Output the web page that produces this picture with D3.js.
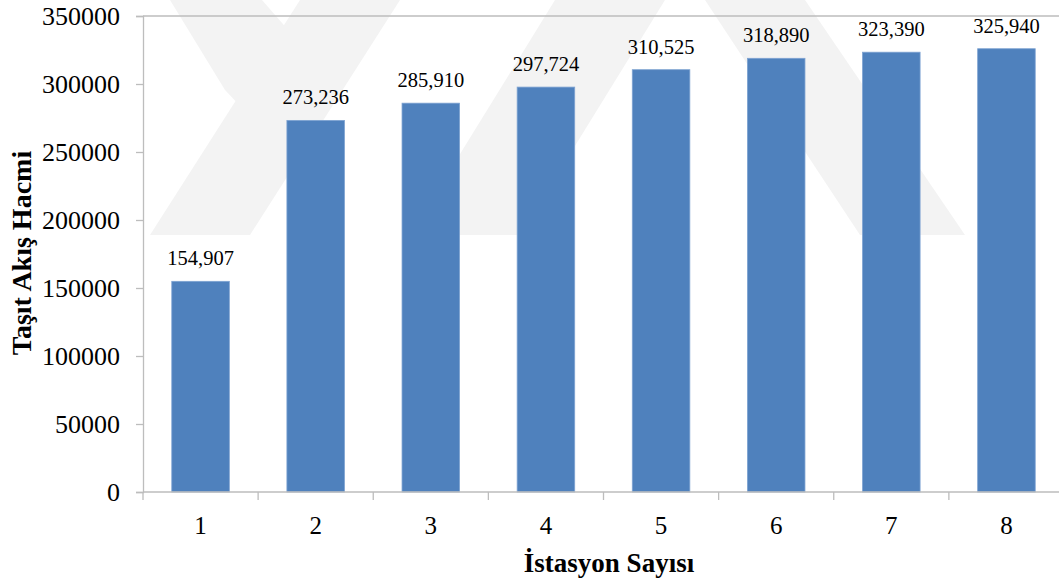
<!DOCTYPE html>
<html>
<head>
<meta charset="utf-8">
<script src="https://cdn.jsdelivr.net/npm/d3@7"></script>
<style>
  html, body { margin: 0; padding: 0; background: #fff; }
  svg { display: block; }
  text { font-family: "Liberation Serif", "Times New Roman", serif; fill: #000; }
</style>
</head>
<body>
<svg id="chart" width="1059" height="586"></svg>
<script>
// Number of stations and the resulting vehicle flow volume
const stations = ["1", "2", "3", "4", "5", "6", "7", "8"];
const flowVolume = [154907, 273236, 285910, 297724, 310525, 318890, 323390, 325940];
const yTicks = [0, 50000, 100000, 150000, 200000, 250000, 300000, 350000];
const xTitle = "İstasyon Sayısı";
const yTitle = "Taşıt Akış Hacmi";

const svg = d3.select("#chart");
const plot = { left: 143, right: 1064, top: 16, bottom: 492 };
const axisColor = "#bdbdbd";

// faint diagonal background stamp behind the chart
const stamp = [
  [[150, 235], [250, 235], [400, 0], [300, 0]],
  [[410, 235], [520, 235], [665, 0], [555, 0]],
  [[705, 0], [805, 0], [965, 235], [860, 235]],
  [[170, 0], [262, 0], [330, 78], [282, 150], [225, 90]]
];
svg.append("g").selectAll("polygon")
  .data(stamp)
  .join("polygon")
  .attr("points", d => d.map(p => p.join(",")).join(" "))
  .attr("fill", "#f3f3f3");

const x = d3.scaleBand()
  .domain(stations)
  .range([plot.left, plot.right])
  .paddingInner(0.5)
  .paddingOuter(0.25);

const y = d3.scaleLinear()
  .domain([0, 350000])
  .range([plot.bottom, plot.top]);

// top border of the plot area
svg.append("line")
  .attr("x1", plot.left).attr("x2", plot.right)
  .attr("y1", y(350000)).attr("y2", y(350000))
  .attr("stroke", axisColor).attr("stroke-width", 1.3);

// bars
svg.append("g").selectAll("rect")
  .data(stations)
  .join("rect")
  .attr("x", d => x(d))
  .attr("width", x.bandwidth())
  .attr("y", (d, i) => y(flowVolume[i]))
  .attr("height", (d, i) => y(0) - y(flowVolume[i]))
  .attr("fill", "#4f81bd")
  .attr("stroke", "#7ea3d2")
  .attr("stroke-width", 0.8);

// value labels
const fmt = d3.format(",");
svg.append("g").selectAll("text")
  .data(stations)
  .join("text")
  .attr("x", d => x(d) + x.bandwidth() / 2)
  .attr("y", (d, i) => y(flowVolume[i]) - 16)
  .attr("text-anchor", "middle")
  .style("font-size", "20.5px")
  .text((d, i) => fmt(flowVolume[i]));

// y axis
const yAxis = svg.append("g")
  .attr("transform", `translate(${plot.left},0)`)
  .call(d3.axisLeft(y).tickValues(yTicks).tickSize(7).tickPadding(16).tickFormat(d3.format("d")));
yAxis.select(".domain").attr("stroke", axisColor).attr("stroke-width", 1.3);
yAxis.selectAll(".tick line").attr("stroke", axisColor).attr("stroke-width", 1.3);
yAxis.selectAll(".tick text")
  .style("font-size", "26px")
  .style("font-family", "'Liberation Serif', 'Times New Roman', serif")
  .attr("fill", "#000");

// x axis: tick marks on the category boundaries, labels in the middle
const step = x.step();
const boundaries = d3.range(stations.length + 1).map(i => plot.left + i * step);
const xAxis = svg.append("g");
xAxis.append("line")
  .attr("x1", plot.left).attr("x2", plot.right)
  .attr("y1", y(0)).attr("y2", y(0))
  .attr("stroke", axisColor).attr("stroke-width", 1.3);
xAxis.selectAll("line.tick")
  .data(boundaries)
  .join("line")
  .attr("class", "tick")
  .attr("x1", d => d).attr("x2", d => d)
  .attr("y1", y(0)).attr("y2", y(0) + 8)
  .attr("stroke", axisColor).attr("stroke-width", 1.3);
xAxis.selectAll("text")
  .data(stations)
  .join("text")
  .attr("x", d => x(d) + x.bandwidth() / 2)
  .attr("y", y(0) + 42)
  .attr("text-anchor", "middle")
  .style("font-size", "25px")
  .text(d => d);

// axis titles
svg.append("text")
  .attr("x", 609)
  .attr("y", 572)
  .attr("text-anchor", "middle")
  .style("font-size", "27px")
  .style("font-weight", "bold")
  .text(xTitle);

svg.append("text")
  .attr("transform", "translate(31,253) rotate(-90)")
  .attr("text-anchor", "middle")
  .style("font-size", "28px")
  .style("font-weight", "bold")
  .text(yTitle);
</script>
</body>
</html>
